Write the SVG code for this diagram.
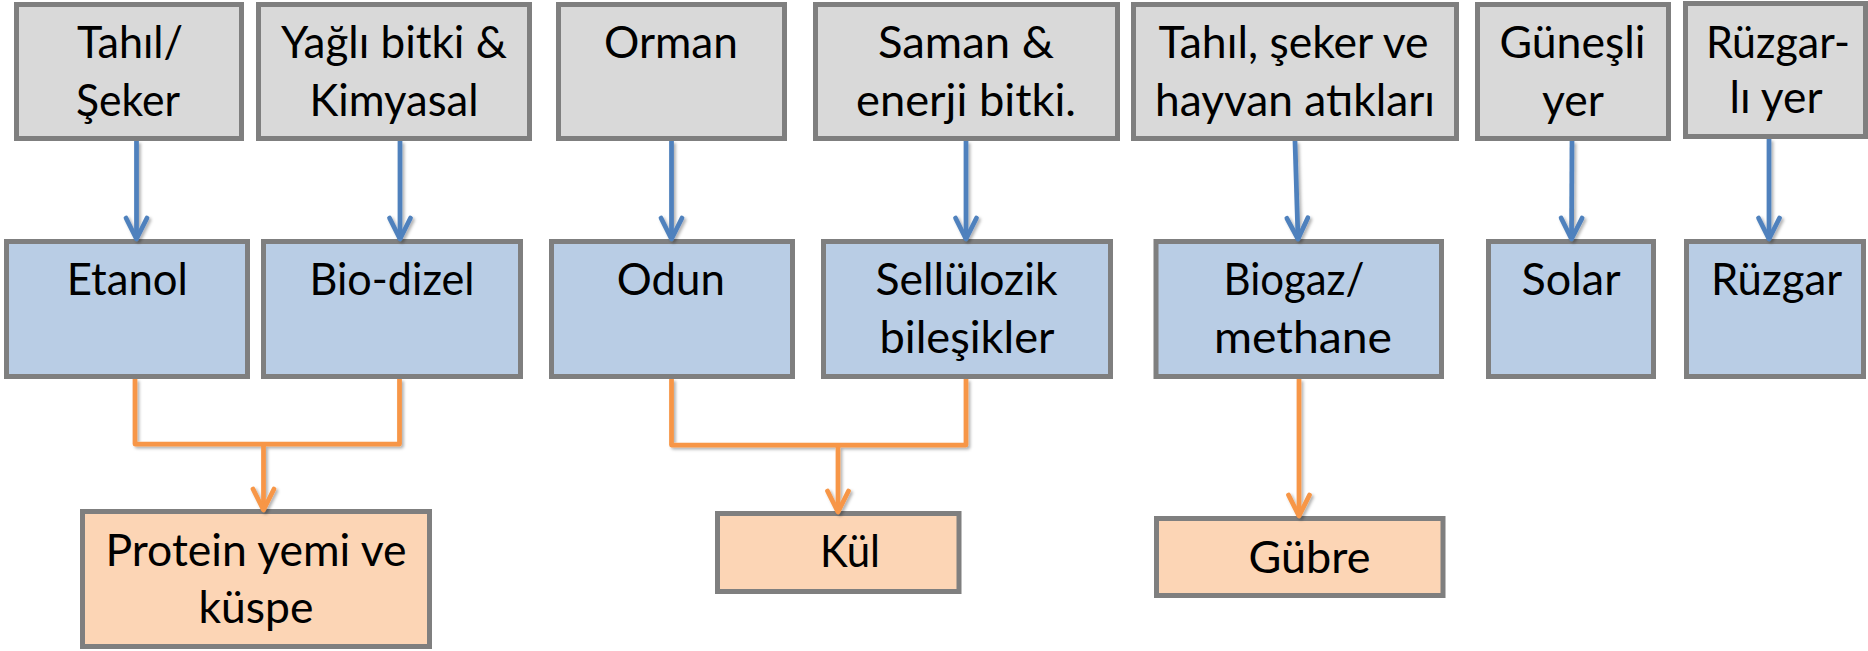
<svg xmlns="http://www.w3.org/2000/svg" width="1868" height="651" viewBox="0 0 1868 651">
<style>
.src{fill:#d9d9d9;stroke:#7f7f7f;stroke-width:5}
.mid{fill:#b9cde5;stroke:#7f7f7f;stroke-width:5}
.out{fill:#fcd5b5;stroke:#7f7f7f;stroke-width:5}
text{font-family:Lato,"Liberation Sans",sans-serif;font-size:44px;fill:#000;text-anchor:middle}
.bl{fill:none;stroke:#4f81bd;stroke-width:4.75;stroke-linejoin:round}
.or{fill:none;stroke:#f79646;stroke-width:4.75;stroke-linejoin:round}
</style>
<defs>
<filter id="sh" x="-20%" y="-20%" width="140%" height="140%">
<feDropShadow dx="2" dy="2" stdDeviation="1.5" flood-color="#000" flood-opacity="0.3"/>
</filter>
<marker id="ab" viewBox="-24 -13 26 26" markerWidth="26" markerHeight="26" refX="0" refY="0" orient="auto" markerUnits="userSpaceOnUse" overflow="visible">
<path d="M-21,-10.5 L0,0 L-21,10.5" fill="none" stroke="#4f81bd" stroke-width="4.75" stroke-linecap="round" stroke-linejoin="round"/>
</marker>
<marker id="ao" viewBox="-24 -13 26 26" markerWidth="26" markerHeight="26" refX="0" refY="0" orient="auto" markerUnits="userSpaceOnUse" overflow="visible">
<path d="M-21,-10.5 L0,0 L-21,10.5" fill="none" stroke="#f79646" stroke-width="4.75" stroke-linecap="round" stroke-linejoin="round"/>
</marker>
</defs>

<g id="n-tahil-seker"><rect class="src" x="16.5" y="4.5" width="225" height="134"/><text x="130" y="58" textLength="106" lengthAdjust="spacingAndGlyphs">Tahıl/</text><text x="128" y="116" textLength="104" lengthAdjust="spacingAndGlyphs">Şeker</text></g>
<g id="n-yagli"><rect class="src" x="258.5" y="4.5" width="271" height="134"/><text x="394" y="58" textLength="226" lengthAdjust="spacingAndGlyphs">Yağlı bitki &amp;</text><text x="394" y="116" textLength="169" lengthAdjust="spacingAndGlyphs">Kimyasal</text></g>
<g id="n-orman"><rect class="src" x="558.5" y="4.5" width="226" height="134"/><text x="671" y="58" textLength="134" lengthAdjust="spacingAndGlyphs">Orman</text></g>
<g id="n-saman"><rect class="src" x="815.5" y="4.5" width="302" height="134"/><text x="966" y="58" textLength="176" lengthAdjust="spacingAndGlyphs">Saman &amp;</text><text x="966" y="116" textLength="220" lengthAdjust="spacingAndGlyphs">enerji bitki.</text></g>
<g id="n-atik"><rect class="src" x="1133.5" y="4.5" width="323" height="134"/><text x="1293.5" y="58" textLength="270" lengthAdjust="spacingAndGlyphs">Tahıl, şeker ve</text><text x="1295" y="116" textLength="280" lengthAdjust="spacingAndGlyphs">hayvan atıkları</text></g>
<g id="n-gunesli"><rect class="src" x="1477.5" y="4.5" width="191" height="134"/><text x="1572.5" y="58" textLength="146" lengthAdjust="spacingAndGlyphs">Güneşli</text><text x="1573" y="116" textLength="62" lengthAdjust="spacingAndGlyphs">yer</text></g>
<g id="n-ruzgarli"><rect class="src" x="1685.5" y="3.5" width="180" height="133"/><text x="1778" y="58" textLength="144" lengthAdjust="spacingAndGlyphs">Rüzgar-</text><text x="1776" y="113" textLength="93" lengthAdjust="spacingAndGlyphs">lı yer</text></g>

<g id="n-etanol"><rect class="mid" x="6.5" y="241.5" width="241" height="135"/><text x="127.3" y="295" textLength="121" lengthAdjust="spacingAndGlyphs">Etanol</text></g>
<g id="n-biodizel"><rect class="mid" x="263.5" y="241.5" width="257" height="135"/><text x="392" y="295" textLength="165" lengthAdjust="spacingAndGlyphs">Bio-dizel</text></g>
<g id="n-odun"><rect class="mid" x="551.5" y="241.5" width="241" height="135"/><text x="670.8" y="295" textLength="108" lengthAdjust="spacingAndGlyphs">Odun</text></g>
<g id="n-sellulozik"><rect class="mid" x="823.5" y="241.5" width="287" height="135"/><text x="966.5" y="295" textLength="182" lengthAdjust="spacingAndGlyphs">Sellülozik</text><text x="967" y="353" textLength="175" lengthAdjust="spacingAndGlyphs">bileşikler</text></g>
<g id="n-biogaz"><rect class="mid" x="1156" y="241.5" width="285.5" height="135"/><text x="1294" y="295" textLength="141" lengthAdjust="spacingAndGlyphs">Biogaz/</text><text x="1303" y="353" textLength="178" lengthAdjust="spacingAndGlyphs">methane</text></g>
<g id="n-solar"><rect class="mid" x="1488.5" y="241.5" width="165" height="135"/><text x="1571" y="295" textLength="99" lengthAdjust="spacingAndGlyphs">Solar</text></g>
<g id="n-ruzgar"><rect class="mid" x="1686.5" y="241.5" width="177" height="135"/><text x="1776.6" y="295" textLength="131" lengthAdjust="spacingAndGlyphs">Rüzgar</text></g>

<g id="n-protein"><rect class="out" x="82.5" y="511.5" width="347" height="135"/><text x="256" y="566" textLength="301" lengthAdjust="spacingAndGlyphs">Protein yemi ve</text><text x="256" y="623" textLength="115" lengthAdjust="spacingAndGlyphs">küspe</text></g>
<g id="n-kul"><rect class="out" x="717.5" y="513.5" width="241.5" height="78"/><text x="850" y="567" textLength="60" lengthAdjust="spacingAndGlyphs">Kül</text></g>
<g id="n-gubre"><rect class="out" x="1156.5" y="518.5" width="286.5" height="77"/><text x="1309.5" y="573" textLength="122" lengthAdjust="spacingAndGlyphs">Gübre</text></g>

<g id="connectors" filter="url(#sh)">
<path class="bl" d="M136.5,141 L136.5,239" marker-end="url(#ab)"/>
<path class="bl" d="M400,141 L400,239" marker-end="url(#ab)"/>
<path class="bl" d="M671.5,141 L671.5,239" marker-end="url(#ab)"/>
<path class="bl" d="M966,141 L966,239" marker-end="url(#ab)"/>
<path class="bl" d="M1295,141 L1298,239" marker-end="url(#ab)"/>
<path class="bl" d="M1572,141 L1571.5,239" marker-end="url(#ab)"/>
<path class="bl" d="M1769,139 L1769,239" marker-end="url(#ab)"/>
<path class="or" d="M135,379 L135,444 L399.5,444 L399.5,379"/>
<path class="or" d="M263.5,444 L263.5,510" marker-end="url(#ao)"/>
<path class="or" d="M671.5,379 L671.5,445 L966,445 L966,379"/>
<path class="or" d="M838,445 L838,512" marker-end="url(#ao)"/>
<path class="or" d="M1299,379 L1299,516" marker-end="url(#ao)"/>
</g>
</svg>
